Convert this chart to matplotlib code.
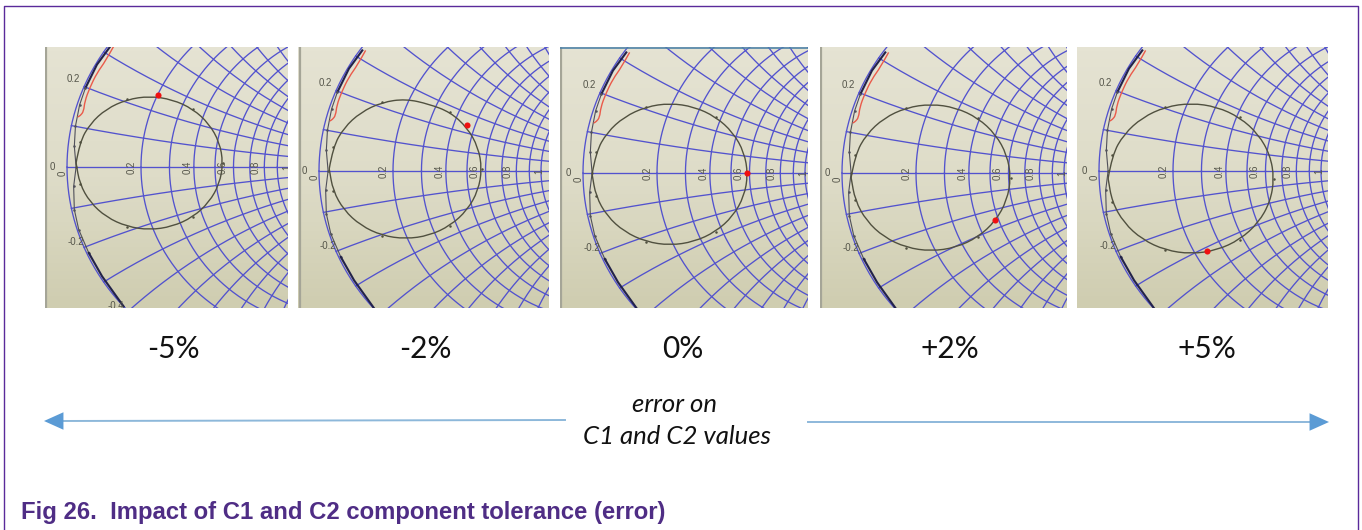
import matplotlib
matplotlib.use('Agg')
import matplotlib.pyplot as plt
from matplotlib.path import Path
from matplotlib.patches import PathPatch
import numpy as np

W, H = 1362, 530

# Data
panel_labels = ['-5%', '-2%', '0%', '+2%', '+5%']
label_x = [173, 425, 683, 950, 1207]

# constant resistance / reactance grid of the Smith chart
r_grid = [0.2, 0.3, 0.4, 0.5, 0.6, 0.7, 0.8, 0.9, 1.0]
x_grid = [0.1, 0.2, 0.3, 0.4, 0.5, 0.6, 0.7, 0.8, 0.9, 1.0]

# loop trace in reflection coefficient coordinates, one per panel
loop_re_1 = [-.959, -.943, -.896, -.823, -.730, -.628, -.526, -.433, -.360, -.313, -.297, -.313, -.360, -.433, -.526, -.628, -.730, -.823, -.896, -.943, -.959]
loop_im_1 = [.019, .118, .207, .278, .323, .339, .323, .278, .207, .118, .019, -.080, -.169, -.240, -.285, -.301, -.285, -.240, -.169, -.080, .019]
loop_re_2 = [-.954, -.937, -.888, -.812, -.716, -.610, -.504, -.408, -.332, -.283, -.266, -.283, -.332, -.408, -.504, -.610, -.716, -.812, -.888, -.937, -.954]
loop_im_2 = [.010, .114, .207, .281, .329, .345, .320, .281, .207, .114, .010, -.094, -.187, -.261, -.309, -.325, -.309, -.261, -.187, -.094, .010]
loop_re_3 = [-.959, -.942, -.892, -.814, -.716, -.608, -.500, -.402, -.324, -.274, -.257, -.274, -.324, -.402, -.500, -.608, -.716, -.814, -.892, -.942, -.959]
loop_im_3 = [-.006, .099, .194, .269, .317, .334, .317, .269, .194, .099, -.006, -.111, -.206, -.281, -.329, -.346, -.329, -.281, -.206, -.111, -.006]
loop_re_4 = [-.959, -.941, -.890, -.811, -.710, -.599, -.488, -.387, -.308, -.257, -.239, -.257, -.308, -.387, -.488, -.599, -.710, -.811, -.890, -.941, -.959]
loop_im_4 = [-.022, .087, .185, .263, .313, .330, .313, .263, .185, .087, -.022, -.131, -.229, -.307, -.357, -.374, -.357, -.307, -.229, -.131, -.022]
loop_re_5 = [-.959, -.941, -.888, -.805, -.701, -.585, -.469, -.365, -.282, -.229, -.211, -.229, -.282, -.365, -.469, -.585, -.701, -.805, -.888, -.941, -.959]
loop_im_5 = [-.036, .076, .176, .256, .307, .325, .307, .256, .176, .076, -.036, -.148, -.248, -.328, -.379, -.397, -.379, -.328, -.248, -.148, -.036]
loops_re = [loop_re_1, loop_re_2, loop_re_3, loop_re_4, loop_re_5]
loops_im = [loop_im_1, loop_im_2, loop_im_3, loop_im_4, loop_im_5]

# red marker on each loop
marker_re = [-.590, -.335, -.261, -.311, -.514]
marker_im = [.344, .220, 0.0, -.225, -.383]

# trace running along the chart edge
edge_re = [-.805, -.865, -.917, -.943, -.962, -.967, -.959, -.970, -.967, -.947, -.902, -.842, -.745]
edge_im = [.577, .490, .378, .298, .195, .099, 0.0, -.093, -.204, -.300, -.411, -.523, -.667]

# red trace at the top
red_re = [-.790, -.827, -.865, -.898, -.920, -.925, -.940, -.952]
red_im = [.577, .506, .450, .378, .314, .266, .246, .239]

# chart scale labels
axis_ticks = ['0.2', '0.4', '0.6', '0.8', '1']
axis_tick_re = [-.707, -.455, -.297, -.149, -.009]

# panel geometry in pixels: left, right, x of gamma=0, y of gamma=0
panels = [(45, 288, 289, 167), (298, 549, 541, 171), (560, 808, 805, 173), (820, 1067, 1064, 173), (1077, 1328, 1321, 171)]
top, bottom = 47, 308
sx, sy = 222.0, 209.0

BLUE = '#5252ce'
PURPLE = '#5a2a9a'


def rounded(ax, re, im, **kw):
    # quadratic curves with the read points as control points
    pts = np.column_stack([re, im])
    mids = (pts[:-1] + pts[1:]) / 2
    verts = [pts[0]]
    codes = [Path.MOVETO]
    for k in range(1, len(pts) - 1):
        verts += [pts[k], mids[k]]
        codes += [Path.CURVE3, Path.CURVE3]
    verts.append(pts[-1])
    codes.append(Path.LINETO)
    ax.add_patch(PathPatch(Path(verts, codes), fill=False, **kw))


fig = plt.figure(figsize=(W / 100, H / 100), dpi=100)

# page overlay in pixel coordinates
page = fig.add_axes([0, 0, 1, 1], zorder=0)
page.set_xlim(0, W)
page.set_ylim(H, 0)
page.axis('off')

for i, (left, right, ox, oy) in enumerate(panels):
    ax = fig.add_axes([left / W, 1 - bottom / H, (right - left) / W, (bottom - top) / H], zorder=2)
    ax.set_xticks([])
    ax.set_yticks([])
    for s in ax.spines.values():
        s.set_visible(False)

    # background gradient
    grad = np.linspace(0, 1, 64).reshape(-1, 1)
    ax.imshow(grad, extent=[0, 1, 0, 1], transform=ax.transAxes, aspect='auto', zorder=0,
              cmap=matplotlib.colors.LinearSegmentedColormap.from_list('bg', ['#e5e3d3', '#dedcc8', '#cfcdb0']))
    ax.set_xlim((left - ox) / sx, (right - ox) / sx)
    ax.set_ylim((oy - bottom) / sy, (oy - top) / sy)
    if i < 4:
        ax.plot([0.006, 0.006], [0, 1], transform=ax.transAxes, color='#a5a597', lw=1.6, zorder=1)
    if i == 2:
        ax.plot([0, 1], [0.998, 0.998], transform=ax.transAxes, color='#4f83a8', lw=1.2, zorder=6)

    # Smith grid
    sweep = np.concatenate([[0], np.geomspace(0.001, 200, 500)])
    for r in [0.0] + r_grid:
        for sign in (1, -1):
            g = (r + 1j * sign * sweep - 1) / (r + 1j * sign * sweep + 1)
            ax.plot(g.real, g.imag, color=BLUE, lw=0.95, zorder=2)
    for x in x_grid:
        for sign in (1, -1):
            g = (sweep + 1j * sign * x - 1) / (sweep + 1j * sign * x + 1)
            ax.plot(g.real, g.imag, color=BLUE, lw=0.95, zorder=2)
    ax.plot([-1, 1], [0, 0], color=BLUE, lw=0.95, zorder=2)

    # traces
    ax.plot(edge_re[:3], edge_im[:3], color='#22224a', lw=1.5, zorder=3)
    ax.plot(edge_re[2:11], edge_im[2:11], color='#50505a', lw=0.8, marker='o', ms=0.8, zorder=3)
    ax.plot(edge_re[10:], edge_im[10:], color='#22224a', lw=1.5, zorder=3)
    rounded(ax, red_re, red_im, color='#ea5a4a', lw=1.0, zorder=3)
    rounded(ax, loops_re[i], loops_im[i], color='#50503f', lw=1.0, zorder=4)
    ax.plot(loops_re[i][1::3], loops_im[i][1::3], 'o', color='#50503f', ms=0.8, zorder=4)
    ax.plot(marker_re[i], marker_im[i], 'o', color='#f01010', ms=4.4, mec='none', zorder=5)

    # scale labels
    lab = dict(color='#55554a', fontsize=7, family='Liberation Sans', zorder=5, clip_on=True)
    for t, re in zip(axis_ticks, axis_tick_re):
        ax.text(re, 0.0, t, rotation=90, ha='center', va='center', **lab)
    ax.text(-1.068, 0.0, '0', ha='center', va='center', **lab)
    ax.text(-1.02, -0.03, '0', rotation=90, ha='center', va='center', **lab)
    ax.text(-.97, .42, '0.2', ha='center', va='center', **lab)
    ax.text(-.96, -.36, '-0.2', ha='center', va='center', **lab)
    if i == 0:
        ax.text(-.782, -.663, '-0.4', ha='center', va='center', **lab)

    page.text(label_x[i], 349, panel_labels[i], ha='center', va='center', fontsize=21.5, family='Lato', color='#111111')

# arrows either side of the note
page.plot([57, 565], [421, 420], color='#8db8da', lw=1.4)
page.plot([808, 1316], [422, 422], color='#8db8da', lw=1.4)
head = dict(arrowstyle='-|>,head_length=1.0,head_width=0.45', color='#5b9bd5', lw=0, shrinkA=0, shrinkB=0, mutation_scale=14)
page.annotate('', xy=(44, 421), xytext=(58, 421), arrowprops=head)
page.annotate('', xy=(1329, 422), xytext=(1315, 422), arrowprops=head)

page.text(674, 404, 'error on', ha='center', va='center', fontsize=18.5, family='Lato', style='italic', color='#111111')
page.text(677, 437, 'C1 and C2 values', ha='center', va='center', fontsize=18.5, family='Lato', style='italic', color='#111111')

page.text(21, 513, 'Fig 26.  Impact of C1 and C2 component tolerance (error)', ha='left', va='center',
          fontsize=17.2, family='Liberation Sans', weight='bold', color='#4f2d85')

# page frame, open at the bottom
page.plot([4, 4, 1358, 1358], [H, 6, 6, H], color=PURPLE, lw=1.0)

plt.savefig('out.png', dpi=100)
